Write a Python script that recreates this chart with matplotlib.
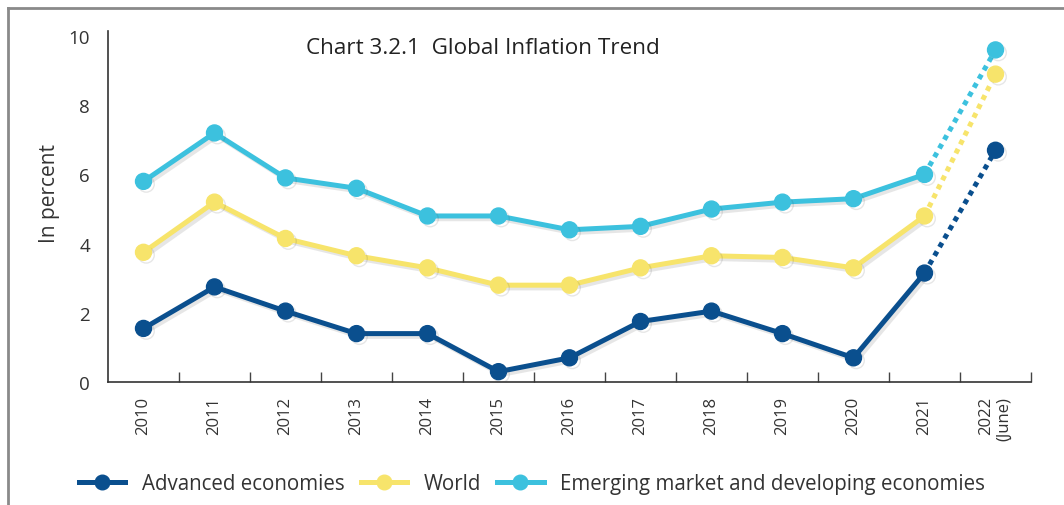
import matplotlib
matplotlib.use("Agg")
import matplotlib.pyplot as plt
import matplotlib.patheffects as pe
from matplotlib.lines import Line2D
import numpy as np

plt.rcParams['font.family'] = ['Open Sans', 'DejaVu Sans']

# data
years = ['2010', '2011', '2012', '2013', '2014', '2015', '2016',
         '2017', '2018', '2019', '2020', '2021', '2022\n(June)']
advanced = [1.55, 2.75, 2.05, 1.4, 1.4, 0.3, 0.7, 1.75, 2.05, 1.4, 0.7, 3.15, 6.7]
world = [3.75, 5.2, 4.15, 3.65, 3.3, 2.8, 2.8, 3.3, 3.65, 3.6, 3.3, 4.8, 8.9]
emerging = [5.8, 7.2, 5.9, 5.6, 4.8, 4.8, 4.4, 4.5, 5.0, 5.2, 5.3, 6.0, 9.6]

series = [
    ('Advanced economies', advanced, '#0a4f8e'),
    ('World', world, '#f7e46b'),
    ('Emerging market and developing economies', emerging, '#3cc1de'),
]

txt = '#333333'

fig = plt.figure(figsize=(10.64, 5.06), dpi=100)
ax = fig.add_axes([0.1015, 0.243, 0.8675, 0.694])

x = np.arange(len(years))
shadow = [pe.SimpleLineShadow(offset=(2, -2), alpha=0.13, shadow_color='#444444'), pe.Normal()]

handles = []
for name, vals, col in series:
    vals = np.array(vals)
    ax.plot(x[-2:], vals[-2:], color=col, lw=3.6, ls=(0, (1, 1)),
            dash_capstyle='butt', zorder=2)
    ax.plot(x[:-1], vals[:-1], color=col, lw=3.6, marker='o', ms=11.5,
            solid_capstyle='round', zorder=3, path_effects=shadow)
    ax.plot(x[-1:], vals[-1:], color=col, ls='none', marker='o', ms=11.5,
            zorder=3, path_effects=shadow)
    handles.append(Line2D([], [], color=col, lw=3.6, marker='o', ms=10.5, label=name))

ax.set_xlim(-0.5, len(years) - 0.5)
ax.set_ylim(0, 10.15)
ax.set_yticks([0, 2, 4, 6, 8, 10])
ax.tick_params(axis='y', length=0, pad=13, labelsize=13.5, labelcolor=txt)
ax.set_xticks(x)
ax.set_xticklabels(years, rotation=90, va='top', ha='center', multialignment='right')
ax.tick_params(axis='x', which='major', length=0, pad=10, labelsize=12, labelcolor=txt)
ax.set_xticks(np.arange(0.5, len(years), 1), minor=True)
ax.tick_params(axis='x', which='minor', direction='in', length=7, width=1, color='#444444')

for s in ['top', 'right']:
    ax.spines[s].set_visible(False)
for s in ['left', 'bottom']:
    ax.spines[s].set_color('#333333')
    ax.spines[s].set_linewidth(1.2)

ax.set_ylabel('In percent', fontsize=15, color=txt)
ax.yaxis.set_label_coords(-0.052, 0.54)

fig.text(0.454, 0.905, 'Chart 3.2.1  Global Inflation Trend', ha='center', va='center',
         fontsize=16.2, color='#222222')

fig.legend(handles=handles, loc='center', bbox_to_anchor=(0.5, 0.042), ncol=3,
           frameon=False, fontsize=14.8, handlelength=2.25, columnspacing=0.8,
           handletextpad=0.8, labelcolor=txt)

# outer frame of the panel
fig.add_artist(Line2D([0.0075, 1.0], [0.982, 0.982], color='#8a8a8a', lw=2,
                      transform=fig.transFigure))
fig.add_artist(Line2D([0.0075, 0.0075], [0.0, 0.982], color='#8a8a8a', lw=2,
                      transform=fig.transFigure))

fig.savefig('out.png', dpi=100)
